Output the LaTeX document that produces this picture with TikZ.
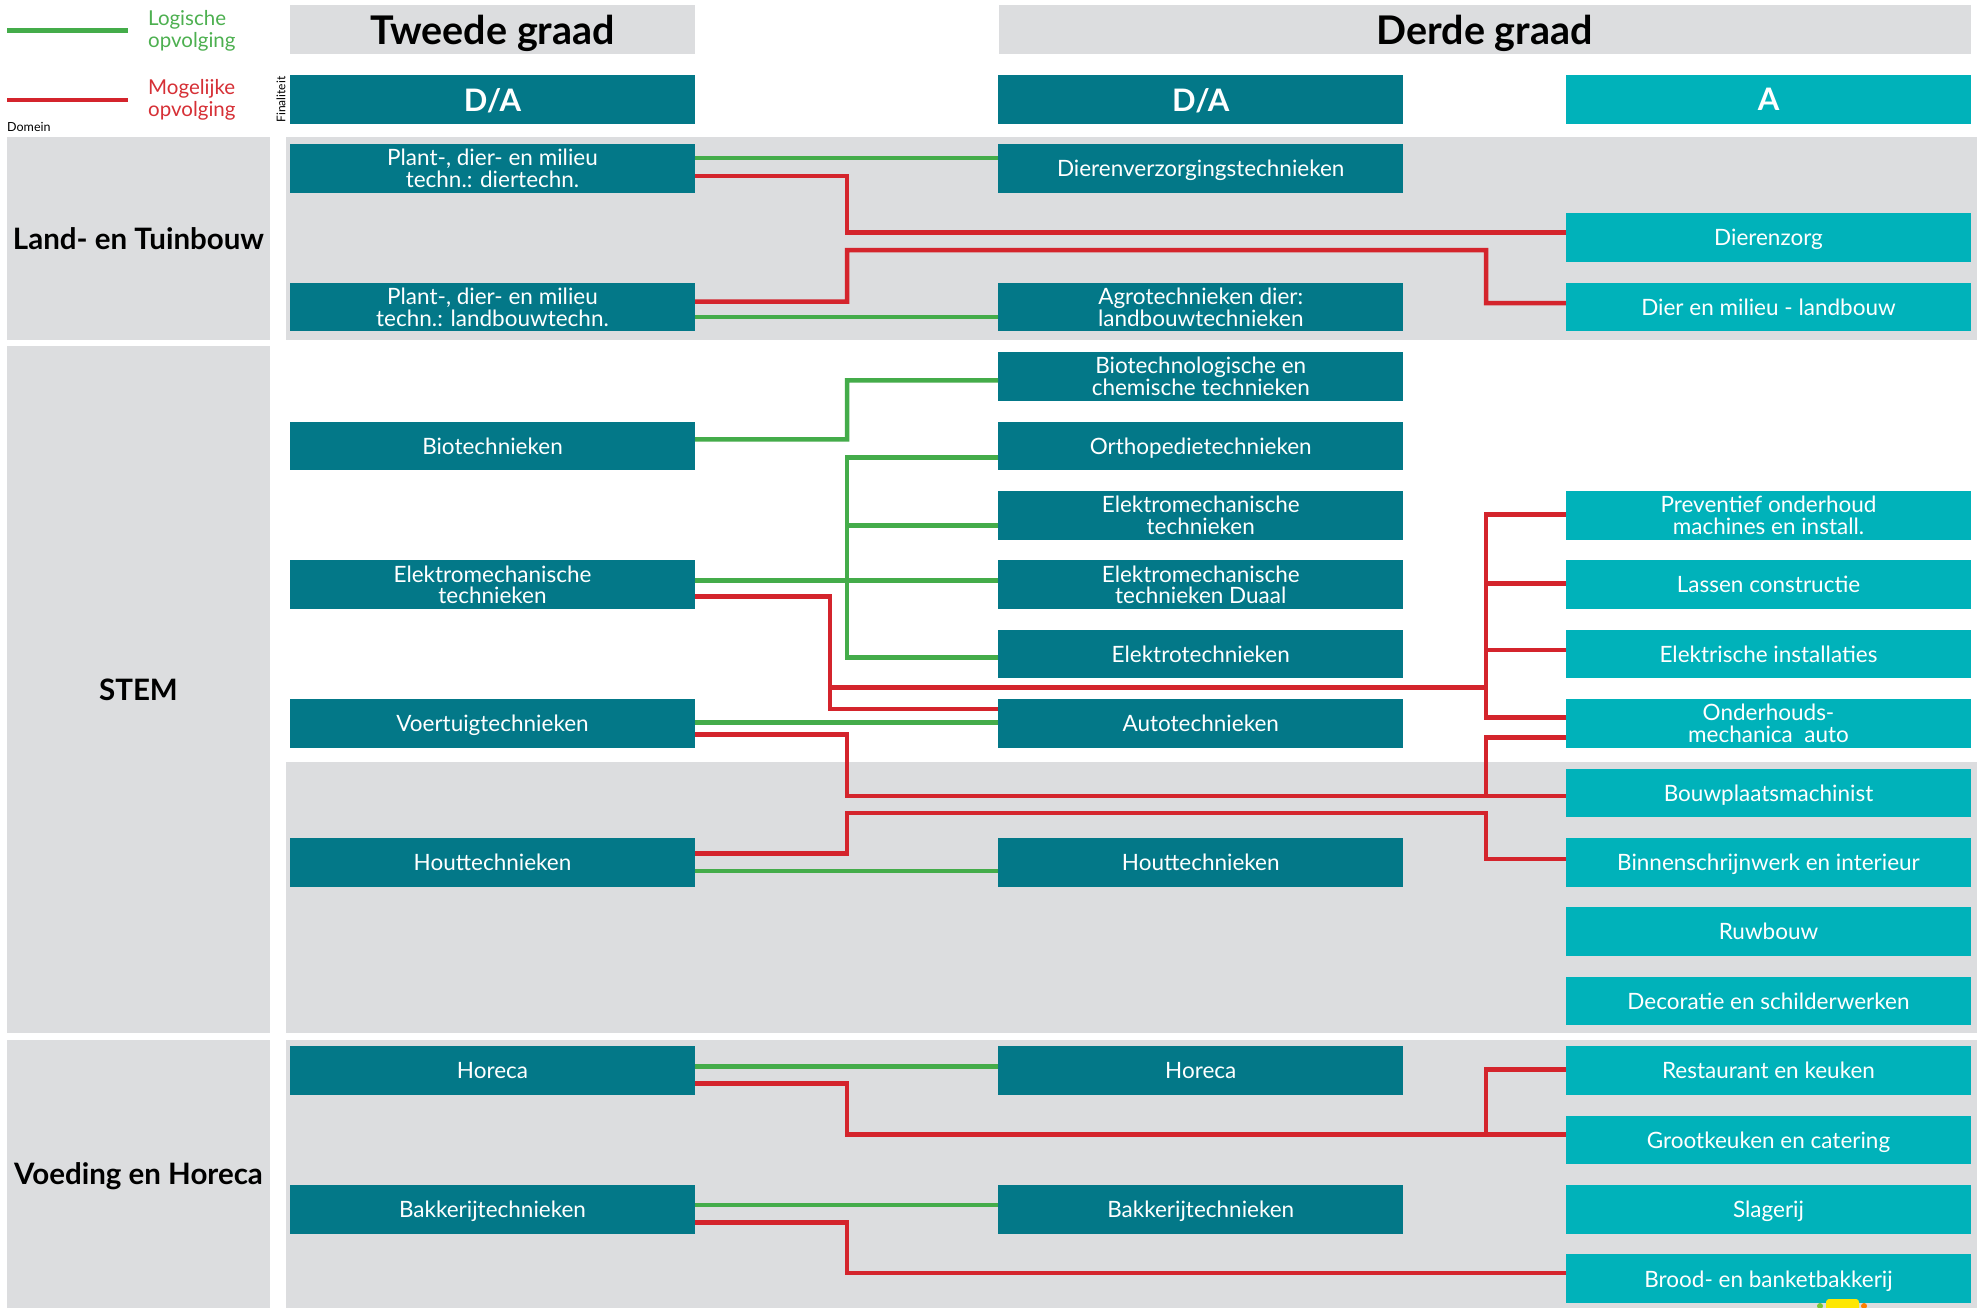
\documentclass[tikz,border=0pt]{standalone}
\usepackage{fontspec}
\setmainfont{Lato}
\usetikzlibrary{calc}
\definecolor{tealD}{RGB}{3,120,136}
\definecolor{tealL}{RGB}{0,178,186}
\definecolor{bandG}{RGB}{220,221,223}
\definecolor{lineG}{RGB}{68,172,74}
\definecolor{lineR}{RGB}{212,36,44}
\definecolor{txtG}{RGB}{77,176,80}
\definecolor{txtR}{RGB}{214,48,54}
\begin{document}
\begin{tikzpicture}[x=1pt,y=-1pt,
  box/.style={minimum width=405pt, minimum height=48.6pt, inner sep=0pt, align=center, text=white, text depth=0pt, font=\fontsize{22.5}{21.7}\selectfont},
  dbox/.style={box, fill=tealD},
  abox/.style={box, fill=tealL},
  grn/.style={draw=lineG, line width=4.5pt},
  rd/.style={draw=lineR, line width=4.5pt},
  hdr/.style={fill=bandG, minimum height=49pt, inner sep=0pt, text depth=0pt, font=\fontsize{39.5}{42}\selectfont\bfseries},
  fin/.style={minimum width=405pt, minimum height=49pt, inner sep=0pt, text depth=0pt, text=white, font=\fontsize{31}{33}\selectfont\bfseries},
  dom/.style={fill=bandG, minimum width=263pt, inner sep=0pt, text depth=0pt, font=\fontsize{29.5}{31}\selectfont\bfseries},
  leg/.style={anchor=west, align=left, inner sep=0pt, font=\fontsize{20.5}{22.6}\selectfont},
]
\useasboundingbox (0,0) rectangle (1977,1308);
\fill[white] (0,0) rectangle (1977,1308);
% bands
\fill[bandG] (286,137) rectangle (1977,339.7);
\fill[bandG] (286,762) rectangle (1977,1033);
\fill[bandG] (286,1040) rectangle (1977,1308);
% domain labels
\node[dom, minimum height=202.7pt] (domLand) at (138.5,238.35) {Land- en Tuinbouw};
\node[dom, minimum height=687pt] (domStem) at (138.5,689.5) {STEM};
\node[dom, minimum height=268pt] (domVoed) at (138.5,1174) {Voeding en Horeca};
% headers
\node[hdr, minimum width=405pt] (h2) at (492.5,29.5) {Tweede graad};
\node[hdr, minimum width=972.5pt] (h3) at (1484.75,29.5) {Derde graad};
\node[fin, fill=tealD] (f1) at (492.5,99.5) {D/A};
\node[fin, fill=tealD] (f2) at (1200.75,99.5) {D/A};
\node[fin, fill=tealL] (f3) at (1768.5,99.5) {A};
% legend
\coordinate (lg1) at (7,30.7); \coordinate (lg2) at (128,30.7);
\coordinate (lr1) at (7,100); \coordinate (lr2) at (128,100);
\draw[grn] (lg1) -- (lg2);
\draw[rd] (lr1) -- (lr2);
\node[leg, text=txtG] (legG) at (148,31) {Logische\\opvolging};
\node[leg, text=txtR] (legR) at (148,100) {Mogelijke\\opvolging};
\node[anchor=west, inner sep=0pt, font=\fontsize{12.5}{14}\selectfont] (domein) at (7,127) {Domein};
\node[rotate=90, inner sep=0pt, font=\fontsize{12}{14}\selectfont] (final) at (281,99.5) {Finaliteit};
% column 1
\node[dbox] (c1a) at (492.5,168.3) {Plant-, dier- en milieu\\techn.: diertechn.};
\node[dbox] (c1b) at (492.5,307.1) {Plant-, dier- en milieu\\techn.: landbouwtechn.};
\node[dbox] (c1c) at (492.5,445.9) {Biotechnieken};
\node[dbox] (c1d) at (492.5,584.7) {Elektromechanische\\technieken};
\node[dbox] (c1e) at (492.5,723.5) {Voertuigtechnieken};
\node[dbox] (c1f) at (492.5,862.3) {Houttechnieken};
\node[dbox] (c1g) at (492.5,1070.5) {Horeca};
\node[dbox] (c1h) at (492.5,1209.3) {Bakkerijtechnieken};
% column 2
\node[dbox] (d0) at (1200.75,168.3) {Dierenverzorgingstechnieken};
\node[dbox] (d2) at (1200.75,307.1) {Agrotechnieken dier:\\landbouwtechnieken};
\node[dbox] (d3) at (1200.75,376.5) {Biotechnologische en\\chemische technieken};
\node[dbox] (d4) at (1200.75,445.9) {Orthopedietechnieken};
\node[dbox] (d5) at (1200.75,515.3) {Elektromechanische\\technieken};
\node[dbox] (d6) at (1200.75,584.7) {Elektromechanische\\technieken Duaal};
\node[dbox] (d7) at (1200.75,654.1) {Elektrotechnieken};
\node[dbox] (d8) at (1200.75,723.5) {Autotechnieken};
\node[dbox] (d10) at (1200.75,862.3) {Houttechnieken};
\node[dbox] (d13) at (1200.75,1070.5) {Horeca};
\node[dbox] (d15) at (1200.75,1209.3) {Bakkerijtechnieken};
% column 3
\node[abox] (a1) at (1768.5,237.7) {Dierenzorg};
\node[abox] (a2) at (1768.5,307.1) {Dier en milieu - landbouw};
\node[abox] (a5) at (1768.5,515.3) {Preventief onderhoud\\machines en install.};
\node[abox] (a6) at (1768.5,584.7) {Lassen constructie};
\node[abox] (a7) at (1768.5,654.1) {Elektrische installaties};
\node[abox] (a8) at (1768.5,723.5) {Onderhouds-\\mechanica\ \ auto};
\node[abox] (a9) at (1768.5,792.9) {Bouwplaatsmachinist};
\node[abox] (a10) at (1768.5,862.3) {Binnenschrijnwerk en interieur};
\node[abox] (a11) at (1768.5,931.7) {Ruwbouw};
\node[abox] (a12) at (1768.5,1001.1) {Decoratie en schilderwerken};
\node[abox] (a13) at (1768.5,1070.5) {Restaurant en keuken};
\node[abox] (a14) at (1768.5,1139.9) {Grootkeuken en catering};
\node[abox] (a15) at (1768.5,1209.3) {Slagerij};
\node[abox] (a16) at (1768.5,1278.7) {Brood- en banketbakkerij};
% green connectors
\draw[grn] ([yshift=10.3pt]c1a.east) -- ([yshift=10.3pt]d0.west);
\draw[grn] ([yshift=-9.9pt]c1b.east) -- ([yshift=-9.9pt]d2.west);
\draw[grn] ([yshift=6.6pt]c1c.east) -- (847,439.3) |- ([yshift=-3.8pt]d3.west);
\draw[grn] ([yshift=4pt]c1d.east) -- ([yshift=4pt]d6.west);
\draw[grn] ([yshift=-11.4pt]d4.west) -| (847,657.3) -- ([yshift=-3.2pt]d7.west);
\draw[grn] (847,525.7) -- ([yshift=-10.4pt]d5.west);
\draw[grn] ([yshift=0.8pt]c1e.east) -- ([yshift=0.8pt]d8.west);
\draw[grn] ([yshift=-8.7pt]c1f.east) -- ([yshift=-8.7pt]d10.west);
\draw[grn] ([yshift=4.2pt]c1g.east) -- ([yshift=4.2pt]d13.west);
\draw[grn] ([yshift=4.3pt]c1h.east) -- ([yshift=4.3pt]d15.west);
% red connectors
\draw[rd] ([yshift=-7.7pt]c1a.east) -- (847,176) |- ([yshift=5pt]a1.west);
\draw[rd] ([yshift=5.4pt]c1b.east) -- (847,301.7) -- (847,250) -- (1486,250) |- ([yshift=4.1pt]a2.west);
\draw[rd] ([yshift=-12pt]c1d.east) -- (830,596.7) |- ([yshift=14.5pt]d8.west);
\draw[rd] (830,687.3) -- (1486,687.3);
\draw[rd] ([yshift=0.6pt]a5.west) -| (1486,717.7) -- ([yshift=5.8pt]a8.west);
\draw[rd] (1486,583.3) -- ([yshift=1.4pt]a6.west);
\draw[rd] (1486,650) -- ([yshift=4.1pt]a7.west);
\draw[rd] ([yshift=-11.2pt]c1e.east) -- (847,734.7) |- ([yshift=-3.1pt]a9.west);
\draw[rd] ([yshift=-13.8pt]a8.west) -| (1486,796);
\draw[rd] ([yshift=8.6pt]c1f.east) -- (847,853.7) -- (847,813) -- (1486,813) |- ([yshift=3.3pt]a10.west);
\draw[rd] ([yshift=-13.2pt]c1g.east) -- (847,1083.7) |- ([yshift=5.2pt]a14.west);
\draw[rd] ([yshift=1.2pt]a13.west) -| (1486,1134.7);
\draw[rd] ([yshift=-13pt]c1h.east) -- (847,1222.3) |- ([yshift=5.7pt]a16.west);
% small logo fragment at bottom
\fill[yellow!90!orange] (1826,1299) [rounded corners=3pt] rectangle (1859,1314);
\fill[lineG!70!yellow] (1820,1306) circle (3pt);
\fill[orange] (1864,1306) circle (3pt);
\end{tikzpicture}
\end{document}
